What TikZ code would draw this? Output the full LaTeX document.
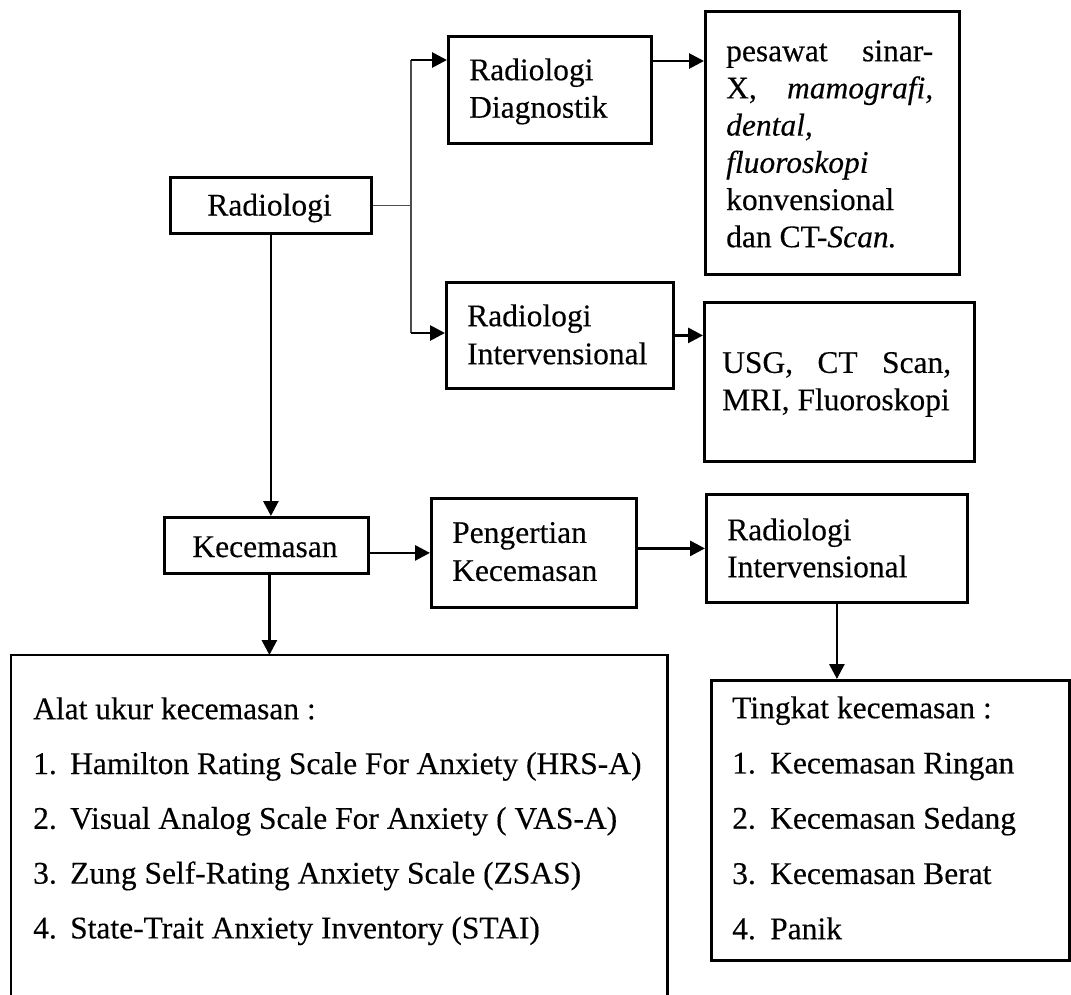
\documentclass[tikz,border=0pt]{standalone}
\usepackage{fontspec}
\setmainfont{Liberation Serif}[FakeBold=0.3]
\usetikzlibrary{arrows.meta}
\newcommand{\firststrut}{\rule{0pt}{23pt}}
\begin{document}
\begin{tikzpicture}[x=1pt,y=-1pt,
  box/.style={draw, line width=2.8pt, inner sep=0pt, anchor=north west},
  txt/.style={inner sep=0pt, anchor=north west, align=left, font=\fontsize{31.5pt}{#1}\selectfont},
  txt/.default=37.5pt,
  single/.style={inner sep=0pt, anchor=base, font=\fontsize{31.5pt}{37.5pt}\selectfont},
  arr/.style={line width=2.8pt, -{Triangle[length=15pt,width=15pt]}},
  thinline/.style={line width=1.5pt, black!70}]
\useasboundingbox (0,0) rectangle (1071,994);

% boxes
\node[box, minimum width=201pt, minimum height=56pt]  (rad)  at (169,176) {};
\node[box, minimum width=203pt, minimum height=107pt] (diag) at (447,35) {};
\node[box, minimum width=254pt, minimum height=263pt] (pes)  at (704,10) {};
\node[box, minimum width=227pt, minimum height=106pt] (int)  at (445,281) {};
\node[box, minimum width=270pt, minimum height=159pt] (usg)  at (703,301) {};
\node[box, minimum width=204pt, minimum height=56pt]  (kec)  at (163,516) {};
\node[box, minimum width=205pt, minimum height=109pt] (peng) at (430,497) {};
\node[box, minimum width=261pt, minimum height=108pt] (int2) at (705,493) {};
\node[box, draw=none, minimum width=654pt, minimum height=345pt] (alat) at (11,655) {};
\node[box, minimum width=358pt, minimum height=280pt] (ting) at (710,679) {};
\draw[line width=2.8pt] (alat.south west) -- (alat.north west) -- (alat.north east) -- (alat.south east);

% texts
\node[single] (trad) at (269.5,215.5) {Radiologi};
\node[single] (tkec) at (265,557) {Kecemasan};
\node[txt] (tdiag) at (469,57) {\firststrut Radiologi\\Diagnostik};
\node[txt=37.2pt] (tpes) at (726,38) {\firststrut\makebox[207pt][s]{pesawat sinar-}\\\makebox[207pt][s]{X, \textit{mamografi,}}\\\textit{dental,}\\\textit{fluoroskopi}\\konvensional\\dan CT-\textit{Scan.}};
\node[txt=38pt] (tint) at (467,303) {\firststrut Radiologi\\Intervensional};
\node[txt=37.3pt] (tusg) at (722,349.7) {\firststrut\makebox[229pt][s]{USG, CT Scan,}\\MRI, Fluoroskopi};
\node[txt=38pt] (tpeng) at (452,519.7) {\firststrut Pengertian\\Kecemasan};
\node[txt=37pt] (tint2) at (727,517) {\firststrut Radiologi\\Intervensional};
\node[txt=54.8pt] (talat) at (33,696) {\firststrut Alat ukur kecemasan :\\
  \makebox[37pt][l]{1.}Hamilton Rating Scale For Anxiety (HRS-A)\\
  \makebox[37pt][l]{2.}Visual Analog Scale For Anxiety ( VAS-A)\\
  \makebox[37pt][l]{3.}Zung Self-Rating Anxiety Scale (ZSAS)\\
  \makebox[37pt][l]{4.}State-Trait Anxiety Inventory (STAI)};
\node[txt=55.25pt] (tting) at (732,695) {\firststrut Tingkat kecemasan :\\
  \makebox[38pt][l]{1.}Kecemasan Ringan\\
  \makebox[38pt][l]{2.}Kecemasan Sedang\\
  \makebox[38pt][l]{3.}Kecemasan Berat\\
  \makebox[38pt][l]{4.}Panik};

% connectors
\coordinate (sTop) at (411,60);
\coordinate (sBot) at (411,333);
\coordinate (dY) at (0,61);
\draw[thinline] (rad.east) -- (rad.east -| sTop);
\draw[thinline] (sTop) -- (sBot);
\draw[arr] (sTop) -- (sTop -| diag.west);
\draw[arr] (sBot) -- (sBot -| int.west);
\draw[arr] (diag.east |- dY) -- (pes.west |- dY);
\draw[arr] (int.east) -- (int.east -| usg.west);
\draw[arr] (rad.south) -- (rad.south |- kec.north);
\draw[arr] ([xshift=3pt]kec.south) -- ([xshift=3pt]kec.south |- alat.north);
\draw[arr] (kec.east |- peng.west) -- (peng.west);
\draw[arr] (peng.east |- int2.west) -- (int2.west);
\draw[arr] (int2.south) -- (int2.south |- ting.north);
\end{tikzpicture}
\end{document}
